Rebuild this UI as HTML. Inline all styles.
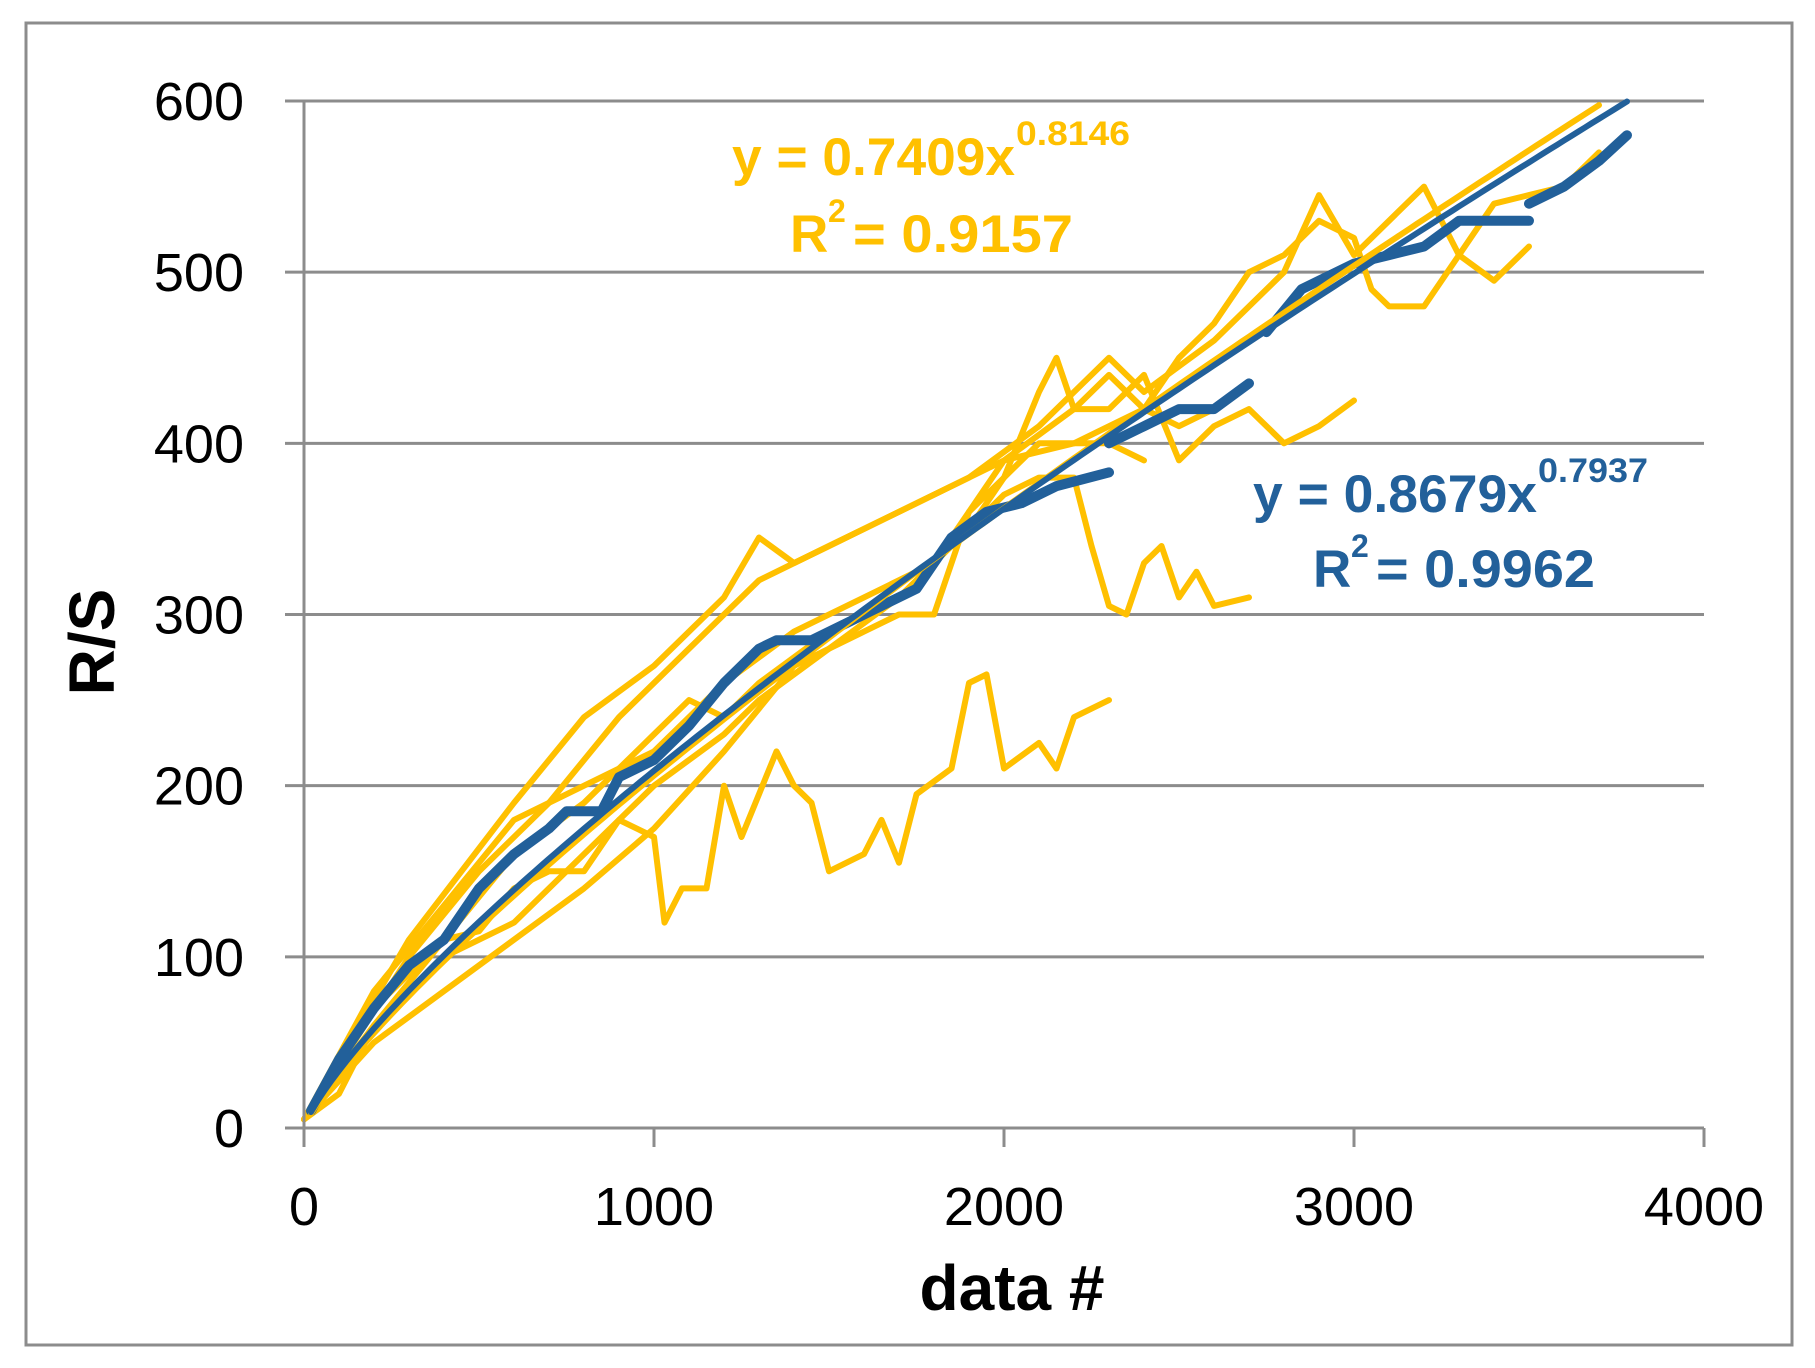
<!DOCTYPE html>
<html><head><meta charset="utf-8"><style>
html,body{margin:0;padding:0;background:#fff;}
svg{display:block;}
text{font-family:"Liberation Sans",sans-serif;}
</style></head><body>
<svg id="chart" width="1815" height="1368" viewBox="0 0 1815 1368" xmlns="http://www.w3.org/2000/svg">
<rect x="26" y="23" width="1766" height="1322" fill="#fff" stroke="#8c8c8c" stroke-width="3"/>
<g id="grid"></g>
<g id="series"></g>
<g id="axes"></g>
<text transform="translate(114,642) rotate(-90)" text-anchor="middle" font-size="64" font-weight="bold" fill="#000">R/S</text>
<text x="1012" y="1310" text-anchor="middle" font-size="64" font-weight="bold" fill="#000" textLength="185" lengthAdjust="spacingAndGlyphs">data #</text>
<g fill="#FFC000" font-weight="bold">
<text x="732" y="175" font-size="53" textLength="283" lengthAdjust="spacingAndGlyphs">y = 0.7409x</text>
<text x="1016" y="145" font-size="34" textLength="114" lengthAdjust="spacingAndGlyphs">0.8146</text>
<text x="790" y="252" font-size="53">R</text>
<text x="828" y="222" font-size="32">2</text>
<text x="853" y="252" font-size="53" textLength="220" lengthAdjust="spacingAndGlyphs">= 0.9157</text>
</g>
<g fill="#22609A" font-weight="bold">
<text x="1253" y="512" font-size="53" textLength="284" lengthAdjust="spacingAndGlyphs">y = 0.8679x</text>
<text x="1538" y="482" font-size="34" textLength="110" lengthAdjust="spacingAndGlyphs">0.7937</text>
<text x="1313" y="587" font-size="53">R</text>
<text x="1351" y="557" font-size="32">2</text>
<text x="1376" y="587" font-size="53" textLength="219" lengthAdjust="spacingAndGlyphs">= 0.9962</text>
</g>
</svg>
<script>
const xTicks=[0,1000,2000,3000,4000];
const yTicks=[0,100,200,300,400,500,600];
const y1x=[0,100,200,300,400,500,600,700,800,900,1000,1030,1080,1150,1200,1250,1350,1400,1450,1500,1600,1650,1700,1750,1850,1900,1950,2000,2100,2150,2200,2300];
const y1v=[5,20,60,85,110,115,140,150,150,180,170,120,140,140,200,170,220,200,190,150,160,180,155,195,210,260,265,210,225,210,240,250];
const y2x=[0,200,400,600,800,1000,1100,1200,1300,1500,1700,1900,2000,2100,2200,2250,2300,2350,2400,2450,2500,2550,2600,2700];
const y2v=[5,70,110,160,190,230,250,240,260,290,310,350,370,380,380,340,305,300,330,340,310,325,305,310];
const y3x=[0,200,400,600,800,1000,1200,1400,1600,1800,1900,2000,2100,2150,2200,2300,2400,2500,2600,2700,2800,2900,3000];
const y3v=[5,80,130,180,200,220,260,290,310,330,360,380,430,450,420,420,440,390,410,420,400,410,425];
const y4x=[0,300,600,800,1000,1200,1300,1400,1500,1700,1900,2000,2200,2300,2400,2500,2600,2700,2800,2900,3000,3050,3100,3200,3300,3400,3500];
const y4v=[5,110,190,240,270,310,345,330,340,360,380,390,420,440,420,450,470,500,510,530,520,490,480,480,510,495,515];
const y5x=[0,300,500,700,900,1100,1300,1500,1700,1900,2100,2300,2400,2600,2800,2900,3000,3100,3200,3300,3400,3500,3600,3700];
const y5v=[5,100,150,190,240,280,320,340,360,380,410,450,430,460,500,545,510,530,550,510,540,545,550,570];
const y6x=[0,200,400,600,800,1000,1200,1400,1600,1700,1800,1900,2000,2200,2400,2500,2600];
const y6v=[5,50,80,110,140,175,220,270,290,300,300,360,390,400,420,410,420];
const y7x=[0,200,400,600,800,1000,1200,1300,1500,1700,1900,2000,2100,2300,2400];
const y7v=[5,60,100,120,160,200,230,250,280,310,350,380,400,400,390];
const b1x=[20,100,200,300,400,500,600,700,750,850,900,1000,1100,1200,1300,1350,1450,1550,1650,1750,1800,1850,1950,2050,2150,2300];
const b1v=[10,40,70,95,110,140,160,175,185,185,205,215,235,260,280,285,285,295,305,315,330,345,360,365,375,383];
const b2x=[2300,2400,2500,2600,2700];
const b2v=[400,410,420,420,435];
const b3x=[2750,2850,3000,3100,3200,3300,3400,3500];
const b3v=[465,490,505,510,515,530,530,530];
const b4x=[3500,3600,3700,3780];
const b4v=[540,550,565,580];
const trendCoef=[0.7409,0.8679];
const trendExp=[0.8146,0.7937];

const X0=304,X1=1704,Y0=1128,Y1=101;
const sx=v=>X0+(v-0)/(4000-0)*(X1-X0);
const sy=v=>Y0-(v-0)/(600-0)*(Y0-Y1);
const NS='http://www.w3.org/2000/svg';
const grid=document.getElementById('grid'),axes=document.getElementById('axes'),ser=document.getElementById('series');
function mk(tag,attrs,parent){const e=document.createElementNS(NS,tag);for(const k in attrs)e.setAttribute(k,attrs[k]);parent.appendChild(e);return e;}
yTicks.forEach(t=>{
  if(t>0){const g=mk('line',{x1:X0,x2:X1,y1:sy(t),y2:sy(t),stroke:'#8c8c8c','stroke-width':3},grid);
  
  }
  const tk=mk('line',{x1:285,x2:X0,y1:sy(t),y2:sy(t),stroke:'#8c8c8c','stroke-width':3},axes);
  
  
  const l=mk('text',{x:244,y:sy(t)+19,'text-anchor':'end','font-size':54,fill:'#000'},axes);
  l.textContent=t;
  
  
});
mk('line',{x1:X0,x2:X0,y1:Y1,y2:1147,stroke:'#8c8c8c','stroke-width':3},axes);
mk('line',{x1:X0,x2:X1,y1:Y0,y2:Y0,stroke:'#8c8c8c','stroke-width':3},axes);
xTicks.forEach(t=>{
  const tk=mk('line',{x1:sx(t),x2:sx(t),y1:Y0,y2:1147,stroke:'#8c8c8c','stroke-width':3},axes);
  
  
  const l=mk('text',{x:sx(t),y:1225,'text-anchor':'middle','font-size':54,fill:'#000'},axes);
  l.textContent=t;
  
  
});
function line(xs,vs,color,w,name){
  const d=xs.map((x,i)=>(i?'L':'M')+sx(x).toFixed(1)+','+sy(vs[i]).toFixed(1)).join('');
  const p=mk('path',{d:d,fill:'none',stroke:color,'stroke-width':w,'stroke-linejoin':'round','stroke-linecap':'round'},ser);
  
  
}
const Y='#FFC000',B='#22609A';
line(y1x,y1v,Y,6,'yellow-series-1');
line(y2x,y2v,Y,6,'yellow-series-2');
line(y3x,y3v,Y,6,'yellow-series-3');
line(y4x,y4v,Y,6,'yellow-series-4');
line(y5x,y5v,Y,6,'yellow-series-5');
line(y6x,y6v,Y,6,'yellow-series-6');
line(y7x,y7v,Y,6,'yellow-series-7');
line(b1x,b1v,B,10,'blue-series-1');
line(b2x,b2v,B,10,'blue-series-2');
line(b3x,b3v,B,10,'blue-series-3');
line(b4x,b4v,B,10,'blue-series-4');
function trend(i,color,w,name){
  const xs=[],vs=[];
  for(let x=20;x<=3780;x+=20){const v=trendCoef[i]*Math.pow(x,trendExp[i]);if(v>600)break;xs.push(x);vs.push(v);}
  line(xs,vs,color,w,name);
}
trend(0,Y,6,'yellow-trendline');
trend(1,B,6,'blue-trendline');
</script>
</body></html>
